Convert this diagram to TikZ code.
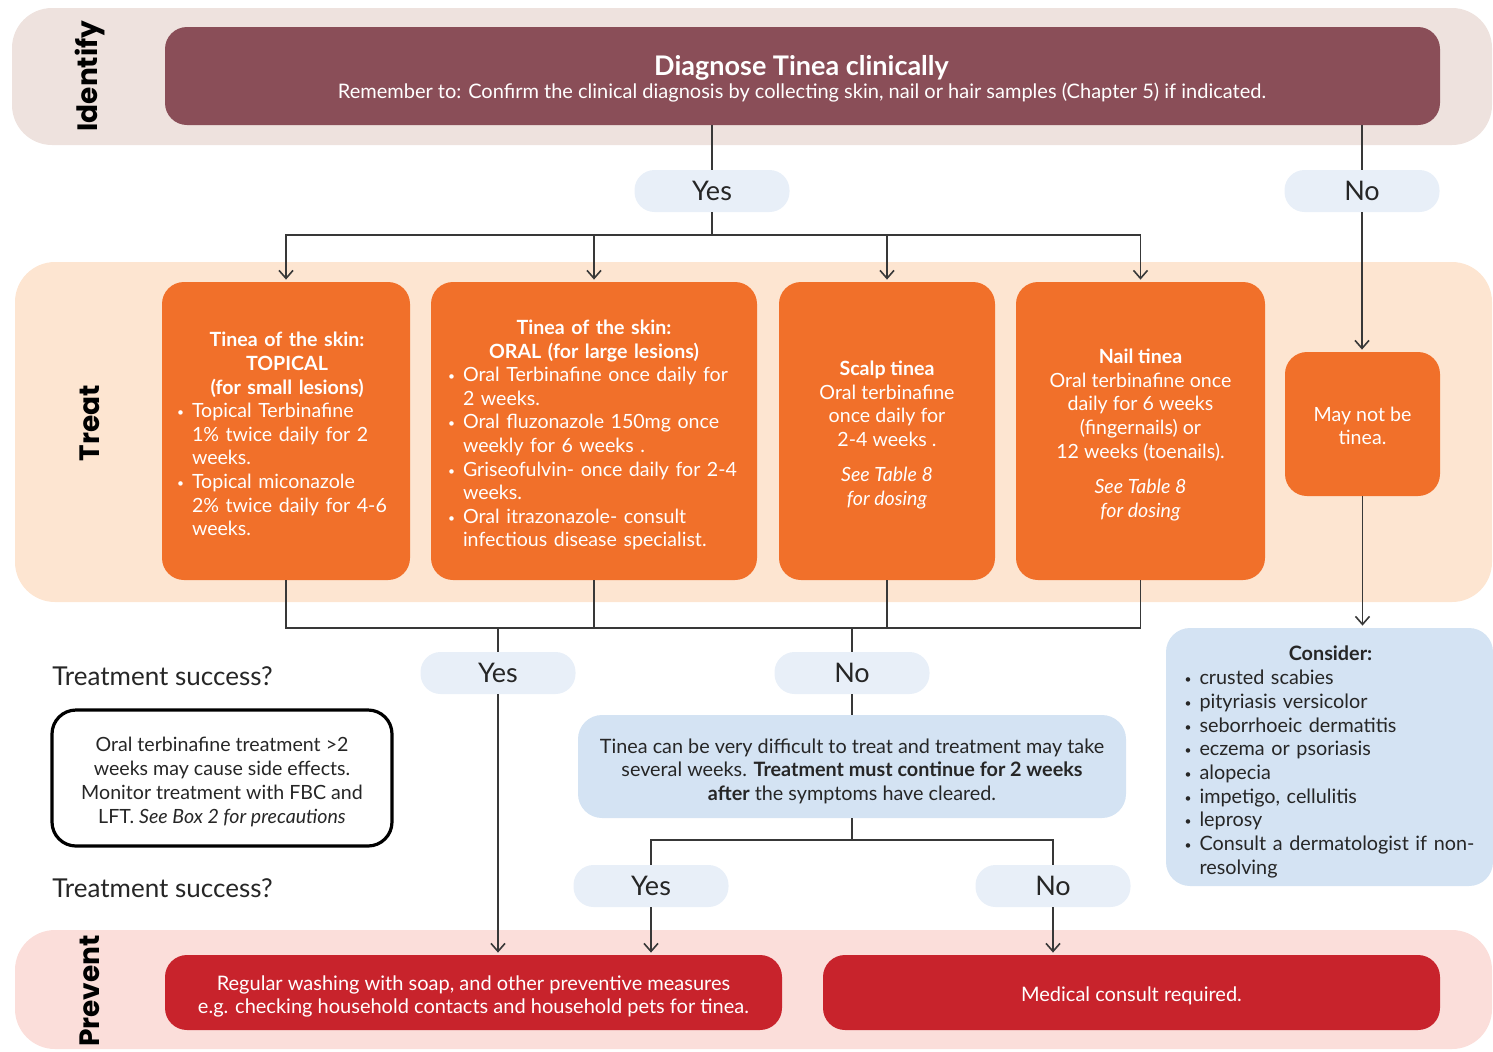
\documentclass[tikz,border=0pt]{standalone}
\usepackage{fontspec}
\setmainfont{Lato}
\newfontfamily\secfont{Poppins}
\usetikzlibrary{arrows.meta}

\definecolor{identbg}{HTML}{EEE2DE}
\definecolor{treatbg}{HTML}{FDE5D1}
\definecolor{prevbg}{HTML}{FBDEDA}
\definecolor{headfill}{HTML}{8A4E58}
\definecolor{orangefill}{HTML}{F1702A}
\definecolor{pillfill}{HTML}{E8EFF8}
\definecolor{bluefill}{HTML}{D4E3F3}
\definecolor{redfill}{HTML}{C8232C}
\definecolor{linecol}{HTML}{383838}
\definecolor{inktext}{HTML}{262626}

\newcommand\fsz[2]{\fontsize{#1}{#2}\selectfont}
\newcommand\blt{\makebox[7.5pt][l]{\raisebox{0.1ex}{\fsz{6}{6}\textbullet}}}
\newcommand\bsp{\hspace*{7.5pt}}

\tikzset{
  band/.style={rounded corners=20pt},
  pill/.style={fill=pillfill, rounded corners=10pt, minimum width=77.5pt,
    minimum height=21pt, inner sep=0pt, text=inktext, font=\fsz{13.5}{15}},
  treatbox/.style={fill=orangefill, rounded corners=11pt, inner sep=0pt, minimum height=149pt},
  treattext/.style={text=white, inner sep=0pt, font=\fsz{9.8}{11.8}},
  bluebox/.style={fill=bluefill, rounded corners=12pt, inner sep=0pt},
  inktextnode/.style={text=inktext, inner sep=0pt},
  redbox/.style={fill=redfill, rounded corners=11pt, inner sep=0pt,
    minimum width=308.5pt, minimum height=37.5pt},
  redtext/.style={text=white, inner sep=0pt, align=center, font=\fsz{10}{11.6}},
  seclabel/.style={rotate=90, text=black, font={\secfont\bfseries\fsz{14}{16}}},
  question/.style={anchor=west, text=inktext, inner sep=0pt, font=\fsz{13}{15}},
  conn/.style={draw=linecol, line width=0.8pt},
  arr/.style={conn, -{Straight Barb[length=4pt,width=7pt]}, shorten >=1pt},
}

\begin{document}
\begin{tikzpicture}[x=0.5pt, y=-0.5pt]
\useasboundingbox (0,0) rectangle (1493,1051);

% section bands
\fill[identbg, band] (12,8) rectangle (1492,145);
\fill[treatbg, band] (15,262) rectangle (1492,602);
\fill[prevbg, band] (15,930) rectangle (1492,1049);

\node[seclabel] (lblIdentify) at (90,76) {Identify};
\node[seclabel] (lblTreat) at (90,423) {Treat};
\node[seclabel] (lblPrevent) at (90,991) {Prevent};

% diagnosis
\node[fill=headfill, rounded corners=11pt, inner sep=0pt,
      minimum width=637.5pt, minimum height=49pt] (head) at (802.5,76) {};
\node[text=white, inner sep=0pt, font=\bfseries\fsz{13.5}{15}] (headTitle) at (801.5,68)
  {Diagnose Tinea clinically};
\node[text=white, inner sep=0pt, font=\fsz{10}{12}] (headNote) at (802,93)
  {Remember to: Confirm the clinical diagnosis by collecting skin, nail or hair samples (Chapter 5) if indicated.};

\node[pill] (yesA) at (712,191) {Yes};
\node[pill] (noA) at (1362,191) {No};

% treatment options
\node[treatbox, minimum width=124pt] (t1) at (286,431) {};
\node[treattext, text width=110pt, align=left] (t1text) at (287,434)
  {{\centering\bfseries Tinea of the skin:\\TOPICAL\\(for small lesions)\par}
   \blt Topical Terbinafine\\
   \bsp 1\% twice daily for 2\\
   \bsp weeks.\\
   \blt Topical miconazole\\
   \bsp \mbox{2\% twice daily for 4-6}\\
   \bsp weeks.};

\node[treatbox, minimum width=163pt] (t2) at (594,431) {};
\node[treattext, text width=146pt, align=left] (t2text) at (594,435)
  {{\centering\bfseries Tinea of the skin:\\ORAL (for large lesions)\par}
   \blt \mbox{Oral Terbinafine once daily for}\\
   \bsp 2 weeks.\\
   \blt Oral fluzonazole 150mg once\\
   \bsp weekly for 6 weeks .\\
   \blt \mbox{Griseofulvin- once daily for 2-4}\\
   \bsp weeks.\\
   \blt Oral itrazonazole- consult\\
   \bsp infectious disease specialist.};

\node[treatbox, minimum width=108pt] (t3) at (887,431) {};
\node[treattext, align=center] (t3text) at (887,435)
  {\textbf{Scalp tinea}\\
   Oral terbinafine\\
   once daily for\\
   2-4 weeks .\\[6pt]
   \textit{See Table 8}\\
   \textit{for dosing}};

\node[treatbox, minimum width=124.5pt] (t4) at (1140.5,431) {};
\node[treattext, align=center] (t4text) at (1140.5,435)
  {\textbf{Nail tinea}\\
   Oral terbinafine once\\
   daily for 6 weeks\\
   (fingernails) or\\
   12 weeks (toenails).\\[6pt]
   \textit{See Table 8}\\
   \textit{for dosing}};

\node[treatbox, minimum width=77.5pt, minimum height=72pt] (t5) at (1362.5,424) {};
\node[treattext, align=center] (t5text) at (1362.5,426) {May not be\\tinea.};

% outcomes
\node[question] (q1) at (52,676) {Treatment success?};
\node[question] (q2) at (52,888) {Treatment success?};

\node[pill] (yesB) at (498,673) {Yes};
\node[pill] (noB) at (852,673) {No};

\node[draw=black, line width=1.6pt, rounded corners=12pt, fill=white, inner sep=0pt,
      minimum width=170pt, minimum height=68pt] (warn) at (222,778) {};
\node[inktextnode, align=center, font=\fsz{9.8}{12}] (warnText) at (222,782)
  {Oral terbinafine treatment >2\\
   weeks may cause side effects.\\
   Monitor treatment with FBC and\\
   LFT. \textit{See Box 2 for precautions}};

\node[bluebox, minimum width=274pt, minimum height=51.5pt] (persist) at (852,766.5) {};
\node[inktextnode, align=center, font=\fsz{9.9}{11.8}] (persistText) at (852,771)
  {Tinea can be very difficult to treat and treatment may take\\
   several weeks. \textbf{Treatment must continue for 2 weeks}\\
   \textbf{after} the symptoms have cleared.};

\node[bluebox, minimum width=163.5pt, minimum height=129pt] (consider) at (1329.5,757) {};
\node[inktextnode, text width=146pt, align=left, font=\fsz{9.9}{11.85}] (considerText) at (1330.5,762)
  {{\centering\bfseries Consider:\par}
   \blt crusted scabies\\
   \blt pityriasis versicolor\\
   \blt seborrhoeic dermatitis\\
   \blt eczema or psoriasis\\
   \blt alopecia\\
   \blt impetigo, cellulitis\\
   \blt leprosy\\
   \blt \mbox{Consult a dermatologist if non-}\\
   \bsp resolving};

\node[pill] (yesC) at (651,886) {Yes};
\node[pill] (noC) at (1053,886) {No};

% prevention
\node[redbox] (prevent) at (473.5,992.5) {};
\node[redtext] (preventText) at (473.5,996.5)
  {Regular washing with soap, and other preventive measures\\
   e.g. checking household contacts and household pets for tinea.};
\node[redbox] (consult) at (1131.5,992.5) {};
\node[redtext] (consultText) at (1131.5,995.5) {Medical consult required.};

% connectors: diagnosis to treatment
\coordinate (splitA) at (712,235);
\draw[conn] (head.south -| yesA) -- (yesA.north);
\draw[conn] (yesA.south) -- (splitA);
\draw[arr] (splitA) -| (t1.north);
\draw[arr] (splitA) -| (t2.north);
\draw[arr] (splitA) -| (t3.north);
\draw[arr] (splitA) -| (t4.north);
\draw[conn] (head.south -| noA) -- (noA.north);
\draw[arr] (noA.south) -- (noA.south |- t5.north);
\draw[arr] (t5.south) -- (t5.south |- consider.north);

% connectors: treatment to outcome
\coordinate (joinB) at (0,628);
\draw[conn] (t1.south) -- (t1.south |- joinB) -- (t4.south |- joinB) -- (t4.south);
\draw[conn] (t2.south) -- (t2.south |- joinB);
\draw[conn] (t3.south) -- (t3.south |- joinB);
\draw[conn] (yesB.north |- joinB) -- (yesB.north);
\draw[conn] (noB.north |- joinB) -- (noB.north);
\draw[arr] (yesB.south) -- (yesB.south |- prevent.north);
\draw[conn] (noB.south) -- (noB.south |- persist.north);

% connectors: second check
\coordinate (joinC) at (852,840);
\draw[conn] (persist.south) -- (joinC);
\draw[conn] (joinC) -| (yesC.north);
\draw[conn] (joinC) -| (noC.north);
\draw[arr] (yesC.south) -- (yesC.south |- prevent.north);
\draw[arr] (noC.south) -- (noC.south |- consult.north);
\end{tikzpicture}
\end{document}
